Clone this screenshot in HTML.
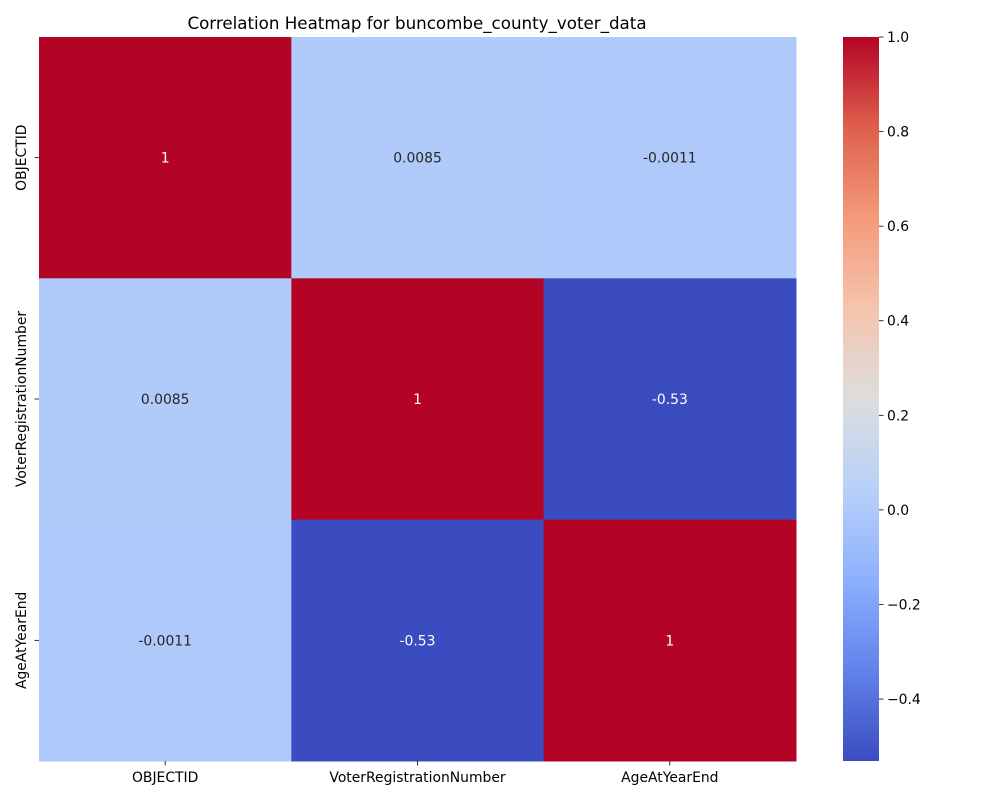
<!DOCTYPE html>
<html><head><meta charset="utf-8"><style>
body{margin:0;background:#fff;}
svg text{font-family:"DejaVu Sans","Liberation Sans",sans-serif;}
</style></head><body>
<svg id="chart" width="1000" height="800">
<defs>
<linearGradient id="cbgrad" x1="0" y1="1" x2="0" y2="0">
<stop offset="0" stop-color="rgb(59,76,192)"/>
<stop offset="0.125" stop-color="rgb(98,130,234)"/>
<stop offset="0.25" stop-color="rgb(141,176,254)"/>
<stop offset="0.375" stop-color="rgb(184,208,249)"/>
<stop offset="0.5" stop-color="rgb(221,221,221)"/>
<stop offset="0.625" stop-color="rgb(245,196,173)"/>
<stop offset="0.75" stop-color="rgb(244,154,123)"/>
<stop offset="0.875" stop-color="rgb(222,96,77)"/>
<stop offset="1" stop-color="rgb(180,4,38)"/>
</linearGradient>
</defs>
<text x="417" y="29" font-size="16.7" text-anchor="middle" fill="#000">Correlation Heatmap for buncombe_county_voter_data</text>
<g id="cells"></g>
<g id="xticks"></g>
<g id="yticks"></g>
<rect x="843" y="37" width="36" height="724" fill="url(#cbgrad)"/>
<g id="cbticks"></g>
</svg>
<script>
const labels = ["OBJECTID","VoterRegistrationNumber","AgeAtYearEnd"];
const row0 = [1, 0.0085, -0.0011];
const row1 = [0.0085, 1, -0.53];
const row2 = [-0.0011, -0.53, 1];
const annot0 = ["1","0.0085","-0.0011"];
const annot1 = ["0.0085","1","-0.53"];
const annot2 = ["-0.0011","-0.53","1"];
const cbTicks = [-0.4,-0.2,0.0,0.2,0.4,0.6,0.8,1.0];
const cbTickLabels = ["\u22120.4","\u22120.2","0.0","0.2","0.4","0.6","0.8","1.0"];
const vmin = -0.531, vmax = 1.0;

const rows=[row0,row1,row2], annots=[annot0,annot1,annot2];
const X0=39,X1=796,Y0=37,Y1=761,n=labels.length;
const cw=(X1-X0)/n, ch=(Y1-Y0)/n;
const xPos=i=>X0+i*cw, yPos=j=>Y0+j*ch;
const cbY=v=>761-(v-vmin)/(vmax-vmin)*724;
const stops=[[59,76,192],[98,130,234],[141,176,254],[184,208,249],[221,221,221],[245,196,173],[244,154,123],[222,96,77],[180,4,38]];
function cmap(v){let t=(v-vmin)/(vmax-vmin);t=Math.max(0,Math.min(1,t));const p=t*8,i=Math.min(7,Math.floor(p)),f=p-i;
const c=stops[i].map((a,k)=>Math.round(a+(stops[i+1][k]-a)*f));return c;}
const NS="http://www.w3.org/2000/svg";
function mk(tag,attrs,parent){const e=document.createElementNS(NS,tag);for(const k in attrs)e.setAttribute(k,attrs[k]);parent.appendChild(e);return e;}
const cells=document.getElementById('cells');
rows.forEach((r,j)=>r.forEach((v,i)=>{
 const c=cmap(v);
 const rc=mk('rect',{x:xPos(i),y:yPos(j),width:cw+0.5,height:ch+0.5,fill:`rgb(${c})`},cells);
 
 
 const lum=(0.299*c[0]+0.587*c[1]+0.114*c[2]);
 const t=mk('text',{x:xPos(i)+cw/2,y:yPos(j)+ch/2+5,'font-size':13.9,'text-anchor':'middle',fill:lum<140?'#fff':'#262626'},cells);
 t.textContent=annots[j][i];
 
 
}));
const xt=document.getElementById('xticks'), yt=document.getElementById('yticks');
labels.forEach((l,i)=>{
 const cx=xPos(i)+cw/2;
 mk('line',{x1:cx,x2:cx,y1:761,y2:765.5,stroke:'#000','stroke-width':0.8},xt);
 const t=mk('text',{x:cx,y:782,'font-size':13.9,'text-anchor':'middle',fill:'#000'},xt);
 t.textContent=l;
 
 
 const cy=yPos(i)+ch/2;
 mk('line',{x1:34.5,x2:39,y1:cy,y2:cy,stroke:'#000','stroke-width':0.8},yt);
 const u=mk('text',{x:0,y:0,'font-size':13.9,'text-anchor':'middle',fill:'#000',transform:`translate(26,${cy}) rotate(-90)`},yt);
 u.textContent=l;
 
 
});
const cb=document.getElementById('cbticks');
cbTicks.forEach((v,k)=>{
 const y=cbY(v);
 mk('line',{x1:879,x2:883.5,y1:y,y2:y,stroke:'#000','stroke-width':0.8},cb);
 const t=mk('text',{x:887,y:y+5,'font-size':13.9,fill:'#000'},cb);
 t.textContent=cbTickLabels[k];
 
 
});
</script>
</body></html>
